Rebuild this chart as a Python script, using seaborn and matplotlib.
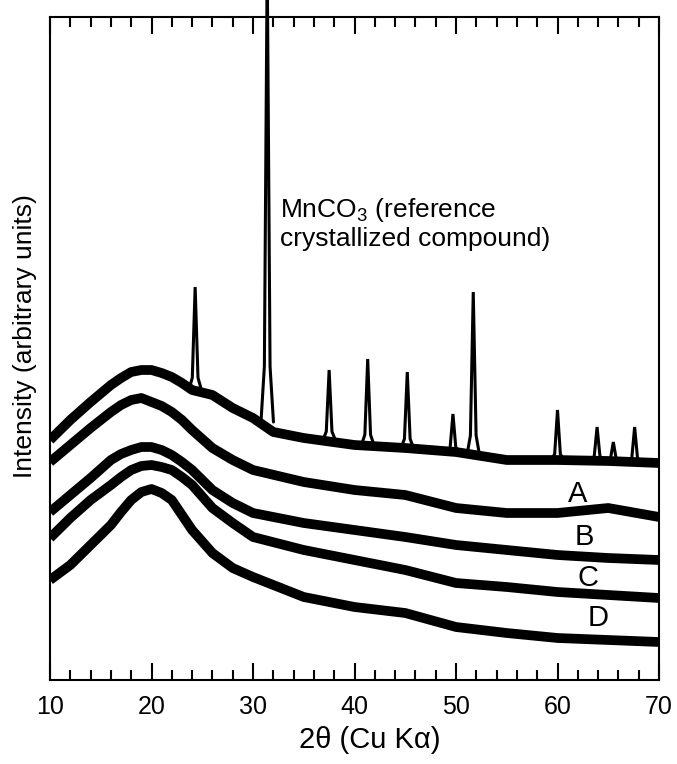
import matplotlib
matplotlib.use("Agg")
import matplotlib.pyplot as plt
from matplotlib.ticker import MultipleLocator
import seaborn as sns
import numpy as np

# 2theta grid used for the amorphous samples
two_theta = [10, 12, 14, 16, 17, 18, 19, 20, 21, 22, 23, 24, 26, 28, 30, 35, 40, 45, 50, 55, 60, 65, 70]
sample_a = [218, 235, 252, 268, 275, 280, 282, 278, 274, 268, 260, 250, 232, 220, 210, 198, 190, 185, 172, 167, 167, 172, 163]
sample_b = [168, 185, 202, 220, 226, 230, 233, 233, 230, 225, 218, 210, 190, 177, 167, 157, 150, 143, 135, 130, 125, 122, 120]
sample_c = [142, 162, 180, 195, 203, 210, 214, 215, 213, 210, 203, 195, 172, 157, 143, 130, 120, 110, 97, 93, 88, 85, 82]
sample_d = [100, 115, 135, 155, 168, 180, 188, 191, 187, 180, 165, 150, 127, 112, 103, 83, 73, 67, 53, 47, 42, 40, 38]

# MnCO3 reference: broad background + sharp peaks
ref_theta = [10, 12, 14, 16, 17, 18, 19, 20, 21, 22, 23, 24, 26, 28, 30, 32, 35, 40, 45, 50, 55, 60, 65, 70]
ref_bg = [240, 260, 278, 295, 302, 308, 310, 310, 307, 303, 297, 290, 285, 272, 262, 248, 242, 235, 232, 228, 220, 220, 219, 217]
peak_pos = [24.3, 31.4, 37.5, 41.3, 45.2, 49.7, 51.7, 60.0, 63.9, 65.5, 67.6]
peak_top = [393, 720, 310, 321, 308, 266, 388, 270, 253, 238, 253]
peak_base = [290, 258, 240, 235, 232, 228, 225, 220, 220, 219, 218]

labels = ["A", "B", "C", "D"]
label_x = [62.0, 62.6, 63.0, 64.0]
label_y = [186, 143, 102, 62]

sns.set_style("ticks", {"axes.edgecolor": "black", "text.color": "black",
                        "axes.labelcolor": "black", "xtick.color": "black"})
plt.rcParams['font.family'] = ['Liberation Sans', 'DejaVu Sans']
plt.rcParams['mathtext.fontset'] = 'custom'
plt.rcParams['mathtext.rm'] = 'Liberation Sans'

fig = plt.figure(figsize=(6.77, 7.64), dpi=100)
ax = fig.add_axes([50/677, 1 - 680/764, 609/677, 663/764])

band_lw = 7.0
for vals in [sample_a, sample_b, sample_c, sample_d]:
    sns.lineplot(x=two_theta, y=vals, ax=ax, color="black", linewidth=band_lw,
                 solid_joinstyle="round", solid_capstyle="butt")

sns.lineplot(x=ref_theta, y=ref_bg, ax=ax, color="black", linewidth=band_lw,
             solid_joinstyle="round", solid_capstyle="butt")

# sharp crystalline peaks on top of the reference background
half_w = 0.28
for p, top, base in zip(peak_pos, peak_top, peak_base):
    px = [p - 2.2 * half_w, p - half_w, p, p + half_w, p + 2.2 * half_w]
    py = [base, base + 0.12 * (top - base), top, base + 0.12 * (top - base), base]
    line, = ax.plot(px, py, color="black", linewidth=2.2, solid_joinstyle="miter")
    line.set_clip_on(False)

for lab, lx, ly in zip(labels, label_x, label_y):
    ax.text(lx, ly, lab, fontsize=21, ha="center", va="center", color="black")

ax.text(32.66, 484, "MnCO$_3$ (reference\ncrystallized compound)",
        fontsize=19, ha="left", va="top", linespacing=1.15, color="black")

ax.set_xlim(10, 70)
ax.set_ylim(0, 663)
ax.xaxis.set_major_locator(MultipleLocator(10))
ax.xaxis.set_minor_locator(MultipleLocator(2))
ax.set_yticks([])
ax.tick_params(axis="x", which="both", direction="in", top=True, bottom=True,
               labelsize=18, width=1.5, pad=11, color="black", labelcolor="black")
ax.tick_params(axis="x", which="major", length=12.5)
ax.tick_params(axis="x", which="minor", length=7)
for s in ax.spines.values():
    s.set_linewidth(1.5)
    s.set_color("black")
    s.set_visible(True)

ax.set_xlabel("2θ (Cu Kα)", fontsize=21, color="black")
ax.xaxis.set_label_coords(0.525, -0.069)
ax.set_ylabel("Intensity (arbitrary units)", fontsize=19, color="black")
ax.yaxis.set_label_coords(-0.021, 0.519)

fig.savefig("out.png", dpi=100)
